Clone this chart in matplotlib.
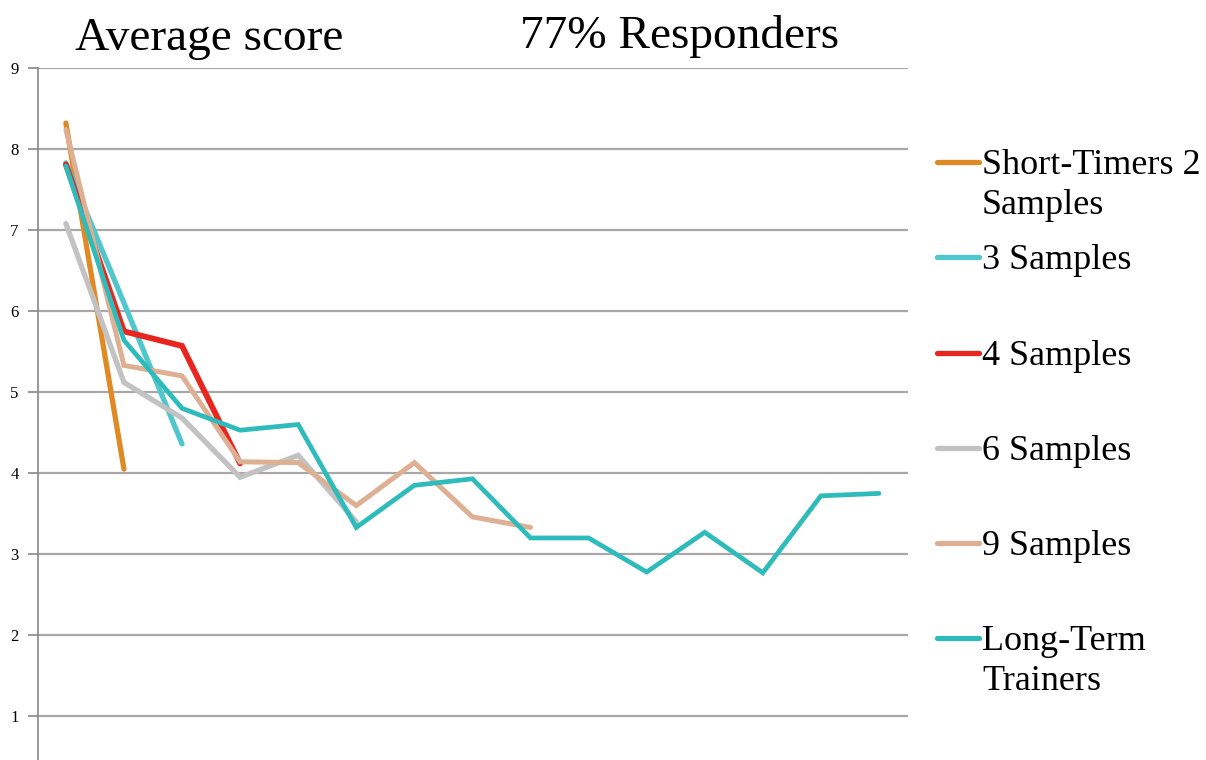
import numpy as np
import matplotlib
matplotlib.use("Agg")
import matplotlib.pyplot as plt
from matplotlib.lines import Line2D

# series values (sample index 1..15)
short_timers = [8.32, 4.05]
three_samples = [7.83, 6.10, 4.36]
four_samples = [7.81, 5.75, 5.57, 4.12]
six_samples = [7.08, 5.12, 4.68, 3.95, 4.22, 3.40]
nine_samples = [8.24, 5.33, 5.20, 4.14, 4.13, 3.60, 4.13, 3.46, 3.33]
long_term = [7.79, 5.64, 4.80, 4.53, 4.60, 3.33, 3.85, 3.93, 3.20, 3.20,
             2.78, 3.27, 2.77, 3.72, 3.75]

labels = ["Short-Timers 2\nSamples", "3 Samples", "4 Samples", "6 Samples",
          "9 Samples", "Long-Term\nTrainers"]
colors = ["#E08A26", "#4FC7CD", "#E8261F", "#C2C2C2", "#DEB093", "#2DBBBB"]
widths = [3.8, 3.8, 4.2, 3.8, 3.6, 3.4]
series = [short_timers, three_samples, four_samples, six_samples,
          nine_samples, long_term]

serif = ["Liberation Serif", "DejaVu Serif"]

fig = plt.figure(figsize=(12.06, 7.6), dpi=100)
ax = fig.add_axes([38 / 1206, 0.0, (908 - 38) / 1206, 1 - 68 / 760])

for i in range(1, 10):
    ax.axhline(i, color="#A8A8A8", lw=1.6, zorder=1)

for vals, c, w in zip(series, colors, widths):
    ax.plot(np.arange(len(vals)), vals, color=c, lw=w, zorder=3,
            solid_capstyle="round", solid_joinstyle="miter")

ax.set_xlim(-0.48, 14.5)
ax.set_ylim(0.46, 9)
ax.set_yticks(range(1, 10))
ax.set_yticklabels([str(i) for i in range(1, 10)], fontfamily=serif,
                   fontsize=12)
ax.set_xticks([])
ax.tick_params(axis="y", length=7, width=1.2, color="#888888", pad=7)
for s in ["top", "right", "bottom"]:
    ax.spines[s].set_visible(False)
ax.spines["left"].set_color("#888888")
ax.spines["left"].set_linewidth(1.2)

# titles
fig.text(75 / 1206, 1 - 39 / 760, "Average score", fontfamily=serif,
         fontsize=34, va="center", ha="left")
fig.text(520 / 1206, 1 - 36 / 760, "77% Responders", fontfamily=serif,
         fontsize=34, va="center", ha="left")

# legend, handle aligned with the first text line
ys = [162, 257, 353, 448, 543, 638]
for lab, c, y in zip(labels, colors, ys):
    fy = 1 - y / 760
    fig.add_artist(Line2D([937 / 1206, 979 / 1206], [fy, fy], color=c,
                          lw=3.8, solid_capstyle="round"))
    fig.text(982 / 1206, 1 - (y - 13) / 760, lab, fontfamily=serif,
             fontsize=26, va="top", ha="left", linespacing=1.3)

fig.savefig("out.png", dpi=100)
